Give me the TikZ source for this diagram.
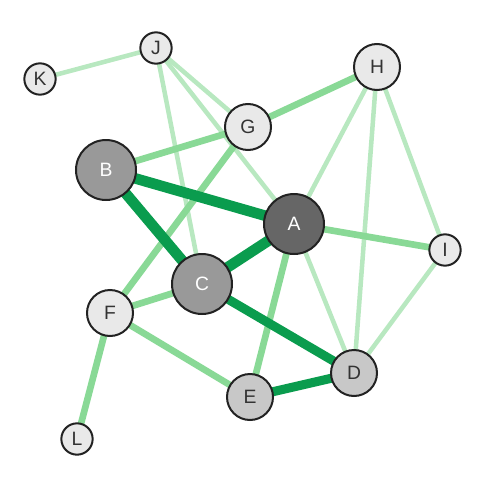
\documentclass[tikz,border=0pt]{standalone}
\usepackage{fontspec}
\setmainfont{Liberation Sans}
\usepackage{xcolor}
\definecolor{LinkDark}{HTML}{0A9C4E}
\definecolor{LinkMid}{HTML}{89D996}
\definecolor{LinkLight}{HTML}{B8E8C0}
\definecolor{NodeDark}{HTML}{666666}
\definecolor{NodeMid}{HTML}{999999}
\definecolor{NodeSoft}{HTML}{C8C8C8}
\definecolor{NodePale}{HTML}{E9E9E9}
\definecolor{RimGray}{HTML}{222222}
\definecolor{TextGray}{HTML}{333333}
\usetikzlibrary{backgrounds}

\begin{document}
\begin{tikzpicture}[
    x=0.75pt, y=-0.75pt,
    vertex/.style={circle, draw=RimGray, line width=1.5pt, inner sep=0pt,
                   font=\fontsize{14.5}{17}\selectfont, text=TextGray},
    big/.style={vertex, minimum size=45pt},
    mid/.style={vertex, minimum size=34.5pt},
    small/.style={vertex, minimum size=23.5pt},
    heavy/.style={draw=LinkDark, line width=8pt},
    medium/.style={draw=LinkMid, line width=5pt},
    light/.style={draw=LinkLight, line width=3.4pt}
  ]
    \useasboundingbox (0,0) rectangle (500,500);

    \node[big, fill=NodeDark, text=white] (a) at (294,224) {A};
    \node[big, fill=NodeMid, text=white] (b) at (106,170) {B};
    \node[big, fill=NodeMid, text=white] (c) at (202,284) {C};
    \node[mid, fill=NodeSoft] (d) at (354,373) {D};
    \node[mid, fill=NodeSoft] (e) at (250,397) {E};
    \node[mid, fill=NodePale] (f) at (110,313) {F};
    \node[mid, fill=NodePale] (g) at (248,127) {G};
    \node[mid, fill=NodePale] (h) at (377,67) {H};
    \node[small, fill=NodePale] (i) at (445,250) {I};
    \node[small, fill=NodePale] (j) at (156,48) {J};
    \node[small, fill=NodePale] (k) at (40,79) {K};
    \node[small, fill=NodePale] (l) at (77,439) {L};

    \begin{scope}[on background layer]
      \draw[light] (k.center) -- (j.center);
      \draw[light] (j.center) -- (g.center);
      \draw[light] (j.center) -- (c.center);
      \draw[light] (j.center) -- (a.center);
      \draw[light] (h.center) -- (a.center);
      \draw[light] (h.center) -- (d.center);
      \draw[light] (h.center) -- (i.center);
      \draw[light] (a.center) -- (d.center);
      \draw[light] (i.center) -- (d.center);
      \draw[medium] (h.center) -- (g.center);
      \draw[medium] (g.center) -- (b.center);
      \draw[medium] (g.center) -- (f.center);
      \draw[medium] (a.center) -- (i.center);
      \draw[medium] (a.center) -- (e.center);
      \draw[medium] (c.center) -- (f.center);
      \draw[medium] (f.center) -- (e.center);
      \draw[medium] (f.center) -- (l.center);
      \draw[heavy] (b.center) -- (a.center);
      \draw[heavy] (b.center) -- (c.center);
      \draw[heavy] (a.center) -- (c.center);
      \draw[heavy, line width=6.8pt] (c.center) -- (d.center);
      \draw[heavy, line width=6.8pt] (e.center) -- (d.center);
    \end{scope}
  \end{tikzpicture}
\end{document}
